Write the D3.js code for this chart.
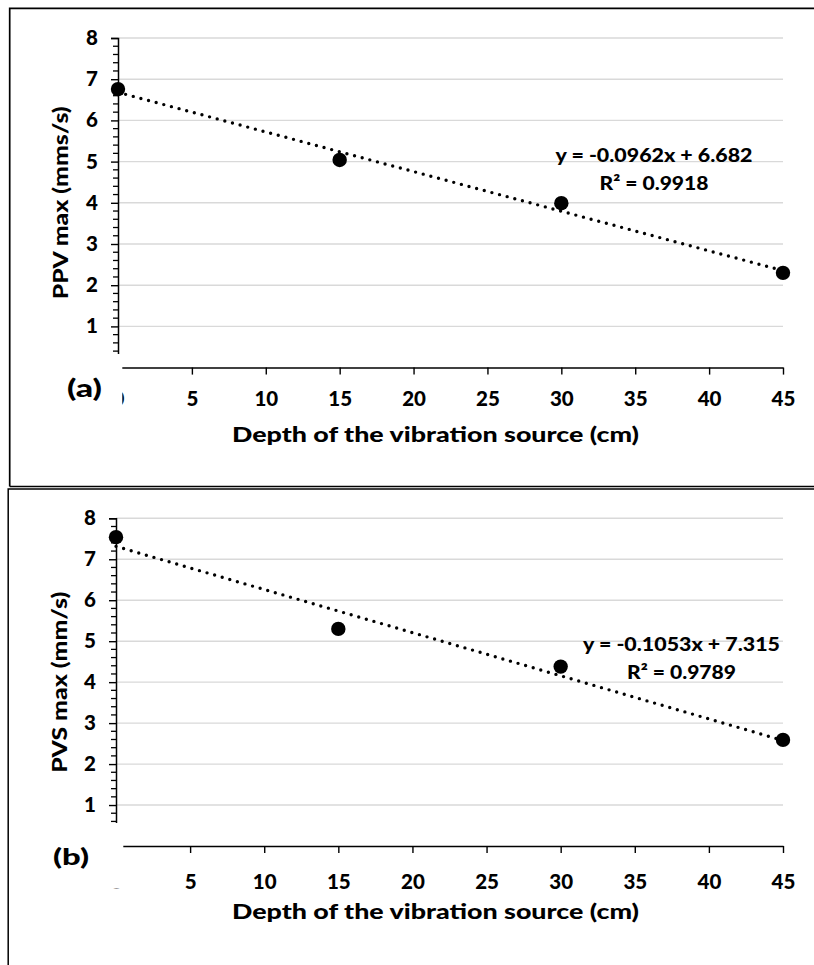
<!DOCTYPE html>
<html><head><meta charset="utf-8">
<script src="https://cdn.jsdelivr.net/npm/d3@7"></script>
<style>
body{margin:0;background:#fff}
svg{display:block}
text{font-family:Lato,'Open Sans',sans-serif;font-weight:900;fill:#000}
</style>
</head><body>
<svg id="c" width="814" height="965"></svg>
<script>
// ---- data ----
const depth = [0, 15, 30, 45];
const ppvMax = [6.76, 5.04, 3.99, 2.30];
const pvsMax = [7.54, 5.30, 4.38, 2.59];
const xTickValues = [0, 5, 10, 15, 20, 25, 30, 35, 40, 45];
const yTickValues = [0, 1, 2, 3, 4, 5, 6, 7, 8];
const fitA = {slope: -0.0962, intercept: 6.682, eq: "y = -0.0962x + 6.682", r2: "R² = 0.9918"};
const fitB = {slope: -0.1053, intercept: 7.315, eq: "y = -0.1053x + 7.315", r2: "R² = 0.9789"};
const panelLabels = ["(a)", "(b)"];
const yTitles = ["PPV max (mms/s)", "PVS max (mm/s)"];
const xTitle = "Depth of the vibration source (cm)";

// ---- layout ----
const svg = d3.select("#c");
const FW = 900;
const TICK_FS = 20.5;

// frames
svg.append("path").attr("d", "M9.7,486.5 V8.3 H816 M9.7,486.5 H816")
  .attr("fill", "none").attr("stroke", "#000").attr("stroke-width", 1.7);
svg.append("path").attr("d", "M8.2,968 V488.9 H816")
  .attr("fill", "none").attr("stroke", "#000").attr("stroke-width", 1.5);

const panels = [
  {vals: ppvMax, fit: fitA, label: panelLabels[0], yTitle: yTitles[0],
   xr: [118, 783], yr: [367.6, 38], xLabY: 38.5, yTitleX: 68, yTitleW: 193,
   xTitleY: 442, eqX: 654, eqY: 161.5, r2Y: 190,
   lab: {x: 84.5, y: 397, size: 25, w: 35},
   box: {x: 30, y: 354, w: 92.3, h: 70}},
  {vals: pvsMax, fit: fitB, label: panelLabels[1], yTitle: yTitles[1],
   xr: [116, 783], yr: [846, 518.3], xLabY: 42.5, yTitleX: 67, yTitleW: 181,
   xTitleY: 918.5, eqX: 681.5, eqY: 650.7, r2Y: 679,
   lab: {x: 71, y: 865, size: 23, w: 36},
   box: {x: 30, y: 823, w: 93.3, h: 65.6}}
];

panels.forEach(p => {
  const x = d3.scaleLinear().domain([0, 45]).range(p.xr);
  const y = d3.scaleLinear().domain([0, 8]).range(p.yr);
  const g = svg.append("g");

  // gridlines
  g.append("g").selectAll("line").data(yTickValues.filter(v => v > 0)).join("line")
    .attr("x1", x(0)).attr("x2", x(45))
    .attr("y1", d => y(d)).attr("y2", d => y(d))
    .attr("stroke", "#d9d9d9").attr("stroke-width", 1.4);

  // minor y ticks
  const minor = d3.range(0, 8.001, 0.2).filter(v => Math.abs(v - Math.round(v)) > 1e-6);
  g.append("g").selectAll("line").data(minor).join("line")
    .attr("x1", x(0) - 5).attr("x2", x(0) + 0.5)
    .attr("y1", d => y(d)).attr("y2", d => y(d))
    .attr("stroke", "#000").attr("stroke-width", 1.3);

  // y axis (the 0 label sits under the panel-label box, so it is left blank)
  const ya = g.append("g").attr("transform", `translate(${x(0)},0)`)
    .call(d3.axisLeft(y).tickValues(yTickValues).tickSize(7).tickPadding(13)
      .tickFormat(d => d === 0 ? "" : d3.format("d")(d)));
  ya.select(".domain").attr("stroke-width", 1.5);
  ya.selectAll(".tick line").attr("stroke-width", 1.4);
  ya.selectAll("text").attr("font-size", TICK_FS).attr("font-family", "Lato").attr("font-weight", FW);

  // x axis
  const xa = g.append("g").attr("transform", `translate(0,${y(0)})`)
    .call(d3.axisBottom(x).tickValues(xTickValues).tickSize(7).tickSizeOuter(0));
  xa.select(".domain").attr("stroke-width", 1.5);
  xa.selectAll(".tick line").attr("stroke-width", 1.4);
  xa.selectAll("text").attr("font-size", TICK_FS).attr("font-family", "Lato").attr("font-weight", FW)
    .attr("y", p.xLabY).attr("dy", 0);

  // trendline
  const line = d3.line().x(d => x(d)).y(d => y(p.fit.intercept + p.fit.slope * d));
  g.append("path").datum([0, 45]).attr("d", line)
    .attr("fill", "none").attr("stroke", "#000").attr("stroke-width", 3.4)
    .attr("stroke-linecap", "round").attr("stroke-dasharray", "0 7.9");

  // markers
  g.append("g").selectAll("circle").data(depth).join("circle")
    .attr("cx", d => x(d)).attr("cy", (d, i) => y(p.vals[i])).attr("r", 7.2).attr("fill", "#000");

  // equation
  g.append("text").attr("x", p.eqX).attr("y", p.eqY).attr("text-anchor", "middle")
    .attr("font-size", 19).attr("textLength", 197).attr("lengthAdjust", "spacingAndGlyphs").text(p.fit.eq);
  g.append("text").attr("x", p.eqX).attr("y", p.r2Y).attr("text-anchor", "middle")
    .attr("font-size", 19).attr("textLength", 109).attr("lengthAdjust", "spacingAndGlyphs").text(p.fit.r2);

  // white box covering the origin
  g.append("rect").attr("x", p.box.x).attr("y", p.box.y).attr("width", p.box.w).attr("height", p.box.h)
    .attr("fill", "#fff");
  g.append("text").attr("x", p.lab.x).attr("y", p.lab.y).attr("text-anchor", "middle")
    .attr("font-size", p.lab.size).attr("textLength", p.lab.w).attr("lengthAdjust", "spacingAndGlyphs").text(p.label);

  // titles
  g.append("text").attr("transform", `translate(${p.yTitleX},${(p.yr[0] + p.yr[1]) / 2}) rotate(-90)`)
    .attr("text-anchor", "middle").attr("font-size", 20.5)
    .attr("textLength", p.yTitleW).attr("lengthAdjust", "spacingAndGlyphs").text(p.yTitle);
  g.append("text").attr("x", 232).attr("y", p.xTitleY).attr("font-size", 20.5)
    .attr("textLength", 407).attr("lengthAdjust", "spacingAndGlyphs").text(xTitle);
});
</script>
</body></html>
